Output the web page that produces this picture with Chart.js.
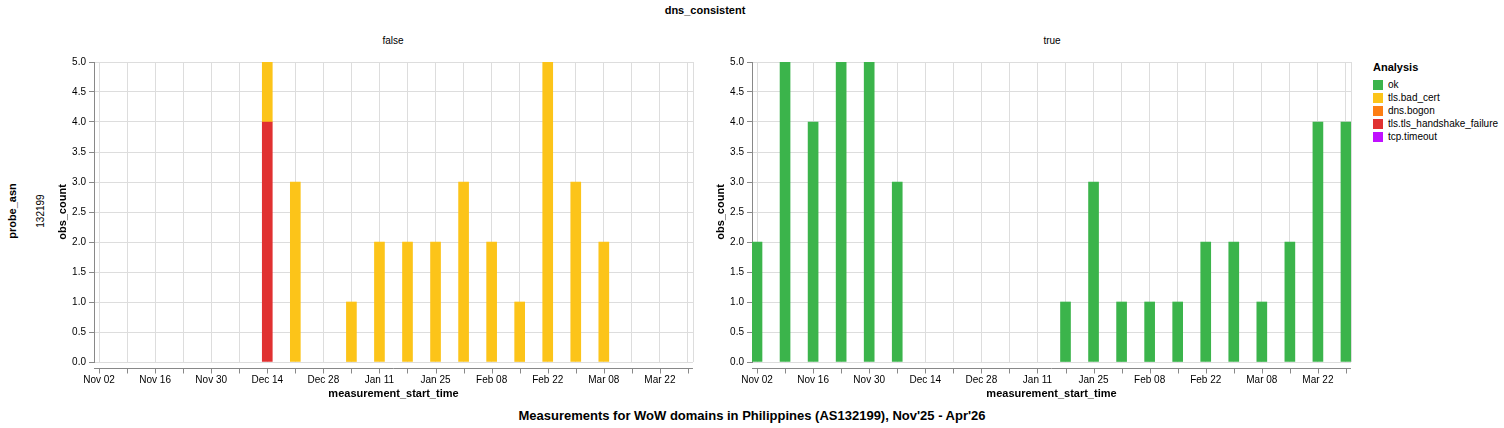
<!DOCTYPE html>
<html>
<head>
<meta charset="utf-8">
<title>dns_consistent</title>
<script src="https://cdn.jsdelivr.net/npm/chart.js@4.4.1/dist/chart.umd.min.js"></script>
<style>
  body { margin: 0; background: #fff; font-family: "Liberation Sans", Arial, sans-serif; }
  #page { position: relative; width: 1504px; height: 428px; overflow: hidden; }
  .txt { position: absolute; transform: translate(-50%, -50%); white-space: nowrap; line-height: 1; color: #000; }
  .rot { transform: translate(-50%, -50%) rotate(-90deg); }
  .bold { font-weight: bold; }
  canvas { position: absolute; }
  #legend { position: absolute; left: 1373px; top: 61px; font-size: 10px; color: #000; }
  #legend .title { font-weight: bold; font-size: 11px; margin-bottom: 5px; }
  #legend .item { height: 13px; display: flex; align-items: center; }
  #legend .sw { width: 10px; height: 10px; margin-right: 5px; }
</style>
</head>
<body>
<div id="page">
  <div class="txt bold" style="left:705px; top:10px; font-size:11px;">dns_consistent</div>
  <div class="txt" style="left:393px; top:41px; font-size:10px;">false</div>
  <div class="txt" style="left:1052px; top:41px; font-size:10px;">true</div>
  <div class="txt rot bold" style="left:12px; top:211px; font-size:11px;">probe_asn</div>
  <div class="txt rot" style="left:41px; top:211px; font-size:10px;">132199</div>
  <div class="txt bold" style="left:752px; top:415px; font-size:13px;">Measurements for WoW domains in Philippines (AS132199), Nov'25 - Apr'26</div>

  <canvas id="panelFalse" width="650" height="351" style="left:50px; top:50px;"></canvas>
  <canvas id="panelTrue" width="650" height="351" style="left:708px; top:50px;"></canvas>

  <div id="legend"><div class="title">Analysis</div></div>
</div>

<script>
// Weeks (bars sit on the Sunday that starts each week)
const weekStarts = [
    '2025-11-02', '2025-11-09', '2025-11-16', '2025-11-23', '2025-11-30', '2025-12-07',
    '2025-12-14', '2025-12-21', '2025-12-28', '2026-01-04', '2026-01-11', '2026-01-18',
    '2026-01-25', '2026-02-01', '2026-02-08', '2026-02-15', '2026-02-22', '2026-03-01',
    '2026-03-08', '2026-03-15', '2026-03-22', '2026-03-29'
];

// Legend categories and colours
const analysisCategories = ['ok', 'tls.bad_cert', 'dns.bogon', 'tls.tls_handshake_failure', 'tcp.timeout'];
const analysisColors = ['#3bb44b', '#fcc419', '#fd7e14', '#e03131', '#c010ff'];

// dns_consistent = false
const falseHandshakeFailure = [null, null, null, null, null, null, 4, null, null, null, null, null,
                               null, null, null, null, null, null, null, null, null, null];
const falseBadCert          = [null, null, null, null, null, null, 1, 3, null, 1, 2, 2,
                               2, 3, 2, 1, 5, 3, 2, null, null, null];

// dns_consistent = true
const trueOk = [2, 5, 4, 5, 5, 3, null, null, null, null, null, 1,
                3, 1, 1, 1, 2, 2, 1, 2, 4, 4];

const monthNames = ['Jan', 'Feb', 'Mar', 'Apr', 'May', 'Jun', 'Jul', 'Aug', 'Sep', 'Oct', 'Nov', 'Dec'];
const DAY = 86400000;
const t0 = Date.parse(weekStarts[0]);

// Days since the first week
function dayOffset(dateStr) {
    return (Date.parse(dateStr) - t0) / DAY;
}

function formatTick(dateStr) {
    const d = new Date(Date.parse(dateStr));
    return monthNames[d.getUTCMonth()] + ' ' + String(d.getUTCDate()).padStart(2, '0');
}

const weekDays = weekStarts.map(dayOffset);
const tickLabels = weekStarts.map((w, i) => (i % 2 === 0 ? formatTick(w) : ''));

function toPoints(values) {
    return weekStarts
        .map((w, i) => ({ x: weekDays[i], y: values[i] }))
        .filter(p => p.y !== null);
}

Chart.defaults.font.family = '"Liberation Sans", Arial, sans-serif';
Chart.defaults.font.size = 10;
Chart.defaults.color = '#000';

// Vega-style frame: right view border and an offset x domain line with ticks
const vlFrame = {
    id: 'vlFrame',
    beforeDatasetsDraw(chart) {
        const { ctx, chartArea: a } = chart;
        ctx.save();
        ctx.strokeStyle = '#ddd';
        ctx.lineWidth = 1;
        const rx = Math.round(a.right) + 0.5;
        ctx.beginPath();
        ctx.moveTo(rx, a.top);
        ctx.lineTo(rx, a.bottom);
        ctx.stroke();
        ctx.restore();
    },
    afterDraw(chart) {
        const { ctx, chartArea: a, scales } = chart;
        const xs = scales.x;
        const y0 = Math.round(a.bottom) + 6.5;
        ctx.save();
        ctx.strokeStyle = '#888';
        ctx.lineWidth = 1;
        ctx.beginPath();
        ctx.moveTo(a.left, y0);
        ctx.lineTo(a.right, y0);
        xs.ticks.forEach(t => {
            const px = Math.round(xs.getPixelForValue(t.value)) + 0.5;
            ctx.moveTo(px, y0);
            ctx.lineTo(px, y0 + 5);
        });
        ctx.stroke();
        ctx.restore();
    }
};

function makePanel(canvasId, datasets, rightPad) {
    const ctx = document.getElementById(canvasId).getContext('2d');
    return new Chart(ctx, {
        type: 'bar',
        data: { datasets: datasets },
        plugins: [vlFrame],
        options: {
            responsive: false,
            animation: false,
            layout: { padding: { top: 12, right: rightPad, left: 0, bottom: 0 } },
            plugins: {
                legend: { display: false },
                tooltip: { enabled: false }
            },
            datasets: {
                bar: { barThickness: 10, borderWidth: 0 }
            },
            scales: {
                x: {
                    type: 'linear',
                    stacked: true,
                    offset: false,
                    min: weekDays[0] - 1.25,
                    max: weekDays[weekDays.length - 1] + 1.25,
                    afterBuildTicks: function(scale) {
                        scale.ticks = weekDays.map(v => ({ value: v }));
                    },
                    afterFit: function(scale) {
                        scale.height = 39;
                    },
                    grid: { color: '#ddd', drawTicks: false, offset: false },
                    border: { display: false },
                    ticks: {
                        autoSkip: false,
                        maxRotation: 0,
                        padding: 12,
                        color: '#000',
                        callback: function(value, index) {
                            return tickLabels[index];
                        }
                    },
                    title: {
                        display: true,
                        text: 'measurement_start_time',
                        color: '#000',
                        padding: 0,
                        font: { size: 11, weight: 'bold' }
                    }
                },
                y: {
                    stacked: true,
                    min: 0,
                    max: 5,
                    afterFit: function(scale) {
                        scale.width = 44;
                    },
                    grid: { color: '#ddd', tickColor: '#888', tickLength: 5 },
                    border: { color: '#888' },
                    ticks: {
                        stepSize: 0.5,
                        padding: 3,
                        color: '#000',
                        callback: function(value) {
                            return value.toFixed(1);
                        }
                    },
                    title: {
                        display: true,
                        text: 'obs_count',
                        color: '#000',
                        padding: { top: 6.5, bottom: 0 },
                        font: { size: 11, weight: 'bold' }
                    }
                }
            }
        }
    });
}

function colorOf(name) {
    return analysisColors[analysisCategories.indexOf(name)];
}

makePanel('panelFalse', [
    { label: 'tls.tls_handshake_failure', data: toPoints(falseHandshakeFailure), backgroundColor: colorOf('tls.tls_handshake_failure') },
    { label: 'tls.bad_cert', data: toPoints(falseBadCert), backgroundColor: colorOf('tls.bad_cert') }
], 6.5);

makePanel('panelTrue', [
    { label: 'ok', data: toPoints(trueOk), backgroundColor: colorOf('ok') }
], 5.5);

// Legend
const legend = document.getElementById('legend');
analysisCategories.forEach((name, i) => {
    const item = document.createElement('div');
    item.className = 'item';
    item.innerHTML = '<div class="sw" style="background:' + analysisColors[i] + '"></div><span>' + name + '</span>';
    legend.appendChild(item);
});
</script>
</body>
</html>
